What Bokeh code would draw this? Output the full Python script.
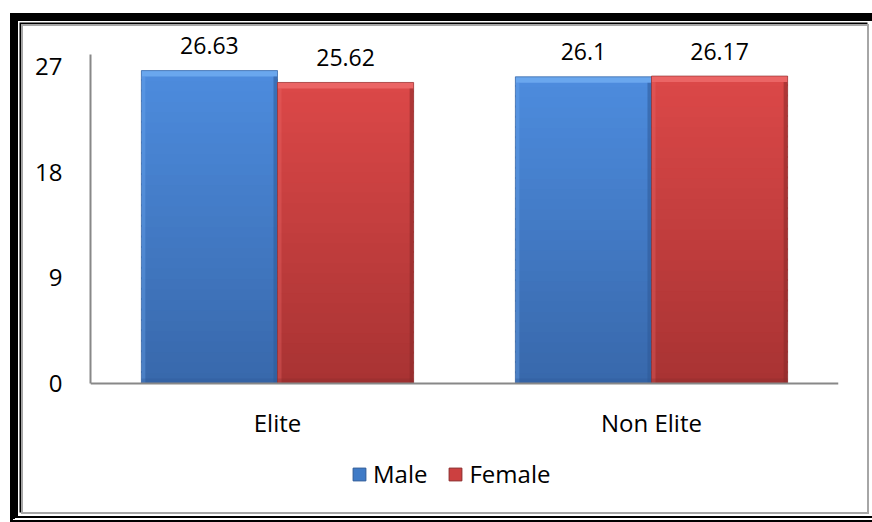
from bokeh.plotting import figure
from bokeh.models import (ColumnDataSource, Range1d, FixedTicker, LabelSet, Legend,
                          LegendItem, InlineStyleSheet)
from bokeh.core.properties import value
from bokeh.embed import file_html
from bokeh.resources import INLINE

# ---------------- data ----------------
categories = ["Elite", "Non Elite"]
series = ["Male", "Female"]
male = [26.63, 26.1]
female = [25.62, 26.17]
y_ticks = [0, 9, 18, 27]
y_max = 28

FONT = "Open Sans"
FS = "24px"

# ---------------- styles ----------------
styles = {
    "Male": dict(top="#4d8cde", bottom="#3868ab", bevel="#6eaaf0", edge="#2d5a98", mid="#3f7bc7"),
    "Female": dict(top="#dc4848", bottom="#a83333", bevel="#ec6868", edge="#8a2a2a", mid="#cc4040"),
}
bar_w = 0.364
offsets = {"Male": -bar_w / 2, "Female": bar_w / 2}

# frame geometry (pixels)
TOP, AXIS_TOP, ZERO, BOTTOM = 25, 54, 383, 510
ppu = (ZERO - AXIS_TOP) / y_max
y_end = (ZERO - TOP) / ppu
y_start = -(BOTTOM - ZERO) / ppu

frame_css = InlineStyleSheet(css="""
:host::before {
  content: ''; position: absolute; left: 10px; top: 13px; width: 862px; height: 509px;
  border-left: 8px solid black; border-top: 8px solid black; border-bottom: 6px double black;
  box-sizing: border-box; pointer-events: none; z-index: 10;
}
:host::after {
  content: ''; position: absolute; left: 21px; top: 24px; width: 848px; height: 490px;
  border: 2px solid #a6a6a6; box-shadow: -1.5px -1.5px 0 0 black;
  box-sizing: border-box; pointer-events: none; z-index: 10;
}
""")

p = figure(width=872, height=522, output_backend="svg", toolbar_location=None,
           x_range=Range1d(-0.5, len(categories) - 0.5), y_range=Range1d(y_start, y_end),
           min_border_left=90, min_border_right=34, min_border_top=TOP,
           min_border_bottom=522 - BOTTOM, stylesheets=[frame_css])
p.outline_line_color = None
p.xgrid.visible = False
p.ygrid.visible = False
p.background_fill_color = "white"
p.border_fill_color = "white"

# ---- bars with gradient + bevel ----
def hex2rgb(h):
    h = h.lstrip("#")
    return tuple(int(h[i:i + 2], 16) for i in (0, 2, 4))

def mix(c1, c2, t):
    a, b = hex2rgb(c1), hex2rgb(c2)
    return "#%02x%02x%02x" % tuple(int(round(a[i] + (b[i] - a[i]) * t)) for i in range(3))

N = 30
px_y = 1.0 / ppu
px_x = 1.0 / 374.0
values = {"Male": male, "Female": female}
legend_items = []
for s in series:
    st = styles[s]
    vals = values[s]
    xs = [i + offsets[s] for i in range(len(categories))]
    # gradient bands
    bx, bt, bb, bc = [], [], [], []
    for x, v in zip(xs, vals):
        for k in range(N):
            bx.append(x)
            bb.append(v * k / N)
            bt.append(min(v, v * (k + 1) / N + 2 * px_y))
            bc.append(mix(st["bottom"], st["top"], (k + 0.5) / N))
    p.vbar(x=bx, top=bt, bottom=bb, width=bar_w, fill_color=bc, line_color=None)
    # top bevel
    p.quad(left=[x - bar_w / 2 for x in xs], right=[x + bar_w / 2 for x in xs],
           top=vals, bottom=[v - 6 * px_y for v in vals],
           fill_color=st["bevel"], line_color=None, fill_alpha=0.9)
    # right edge darker
    p.quad(left=[x + bar_w / 2 - 4 * px_x for x in xs], right=[x + bar_w / 2 for x in xs],
           top=[v - 6 * px_y for v in vals], bottom=[0] * len(vals),
           fill_color=st["edge"], line_color=None, fill_alpha=0.55)
    # left edge lighter
    p.quad(left=[x - bar_w / 2 for x in xs], right=[x - bar_w / 2 + 4 * px_x for x in xs],
           top=[v - 6 * px_y for v in vals], bottom=[0] * len(vals),
           fill_color=st["bevel"], line_color=None, fill_alpha=0.35)
    # bottom darker
    p.quad(left=[x - bar_w / 2 for x in xs], right=[x + bar_w / 2 for x in xs],
           top=[5 * px_y] * len(vals), bottom=[0] * len(vals),
           fill_color=st["edge"], line_color=None, fill_alpha=0.35)
    src = ColumnDataSource(dict(x=xs, top=vals))
    p.vbar(x="x", top="top", width=bar_w, source=src, fill_color=None,
           line_color=st["edge"], line_width=1, line_alpha=0.6)
    # legend swatch renderer
    sw = p.vbar(x=[0], top=[0], width=0, fill_color=st["mid"], line_color=st["edge"])
    legend_items.append(LegendItem(label=s, renderers=[sw]))
    # labels
    lab_src = ColumnDataSource(dict(x=xs, y=vals, t=[("%g" % v) for v in vals]))
    p.add_layout(LabelSet(x="x", y="y", text="t", source=lab_src, text_align="center",
                          text_baseline="middle", y_offset=25, text_font=value(FONT),
                          text_font_size=value("23px"), text_color="black"))

# ---- axes ----
p.xaxis.ticker = FixedTicker(ticks=list(range(len(categories))))
p.xaxis.major_label_overrides = {i: c for i, c in enumerate(categories)}
p.xaxis.fixed_location = 0
p.yaxis.ticker = FixedTicker(ticks=y_ticks)
p.yaxis.bounds = (0, y_max)
for ax in (p.xaxis[0], p.yaxis[0]):
    ax.axis_line_color = "#888888"
    ax.axis_line_width = 2
    ax.major_tick_line_color = None
    ax.minor_tick_line_color = None
    ax.major_label_text_font = FONT
    ax.major_label_text_font_size = FS
    ax.major_label_text_color = "black"
p.yaxis.major_label_standoff = 22
p.xaxis.major_label_standoff = 16

legend = Legend(items=legend_items, orientation="horizontal", location=(261, 20),
                label_text_font=FONT, label_text_font_size=FS, label_text_color="black",
                glyph_width=16, glyph_height=16, spacing=20, label_standoff=6,
                background_fill_alpha=0, border_line_color=None, padding=0,
                margin=0)
p.add_layout(legend, "center")

open("out.html", "w").write(file_html(p, INLINE))
